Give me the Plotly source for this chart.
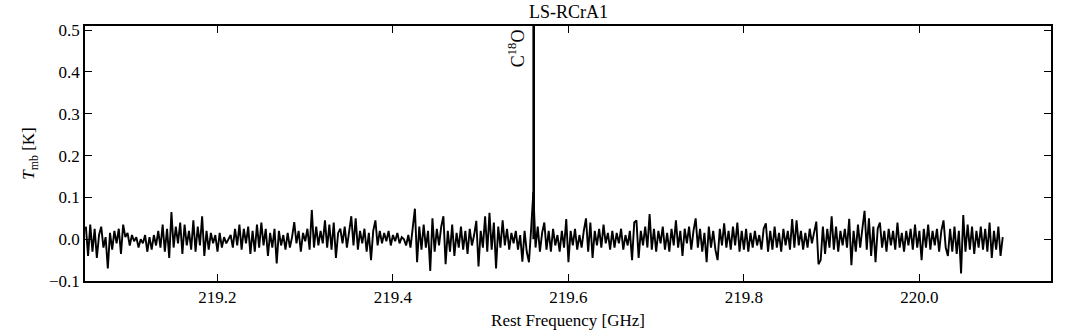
import plotly.graph_objects as go

# ---- data (Tmb in mK) ----
freq_start = 219.050   # GHz, first channel
freq_end = 220.095     # GHz, last channel

seg_a = [30, -40, 35, -30, 25, -45, 10, 30, -20, 5, -70, 15, -25, 20, -10, 25, -35, 35, 5, 15,
         -15, 10, -5, 5, -20, 0, -10, 10, -30, 5, -25, 10, -15, 20, -20, 35, -30, 25, -45, 65,
         -20, 30, -10, 40, -35, 35, -15, 20, -25, 45, -30, 30, -15, 55, -40, 20, -25, 15, -10, 10,
         -30, 15, -20, 5, -10, 0, 10, -20, 25, -15, 35, -25, 25, -10, 30, -35, 20, -30, 35, -20,
         40, -15, 25, -40, 15]
seg_b = [-20, 25, -58, 20, -15, 10, -25, 15, -20, 5, 41, -10, 20, -30, 15, -5, 25, -25, 70, -20,
         30, -15, 20, -10, 45, -20, 35, -25, 40, -45, 15, 25, -10, 30, -20, 20, 55, -15, 50, -25,
         20, -10, 25, -30, 15, -50, 20, 45, -15, 20, -10, 15, -5, 20, -15, 10, -5, 15, -10, 5,
         0, -15, 10, -20, 25, 73, -55, 30, -25, 35, -20, 20, -76, 50, -30, 25, -15, 30, 55, -60,
         20, -30, 35, -40, 15, -20]
seg_c = [30, -25, 20, -35, 25, -15, 10, 44, -65, 20, -20, 55, -30, 63, -25, 40, -70, 30, -20, 45,
         -15, 25, -25, 15, -10, 20, -25, 10, -54, 20, -30, -55, 25, 113, -20, 30, -30, 15, 40, -25,
         20, -30, 25, -15, 10, -30, 20, -20, 48, -55, 20, -15, 25, -25, 10, -20, 20, 50, -30, 40,
         -45, 20, -15, 25, -20, 35, -10, 15, -25, 20, -20, 15, -10, 25, -25, 10, -15, 20, -50, 40]
seg_d = [45, -45, 20, -15, 30, -20, 60, -25, 25, -30, 20, -10, 30, -25, 15, -30, 25, -15, 45, -20,
         20, -40, 25, -10, 30, -25, 20, 50, -20, 25, -30, 15, -55, 30, -20, 20, -25, -50, 25, -15,
         38, -20, 20, -25, 30, -15, 40, -30, 20, -25, 25, -30, 15, -20, 20, -15, 10, -25, 25, 38,
         -30, 20, -25, 30, -20, 15, -30, 25, -15, 20, -25, 48, -20, 45, -15, 20, -25, 15, -20, 25,
         -10, 20, 42, -60]
seg_e = [-50, 30, -35, 25, -20, 55, -25, 30, -30, 20, -15, 25, -20, 49, -62, 20, -30, 35, -20, 25,
         68, -25, 50, -40, 30, -55, 25, 40, -20, 20, -30, 25, -15, 20, -25, 40, -20, 15, -30, 20,
         -15, 25, -25, 35, -20, 20, -50, 25, -20, 35, -25, 20, -15, 25, -30, 20, 45, -20, -40, 25,
         -30, 30, -35, 20, -82, 58, -30, 35, -25, 30, -35, 20, -20, 30, -25, 25, -30, 40, -45, 20,
         -25, 30, -40, 5]

c18o_freq = 219.5604     # GHz
c18o_label = "C<sup>18</sup>O"
title_text = "LS-RCrA1"
x_ticks = [219.2, 219.4, 219.6, 219.8, 220.0]
x_ticklabels = ["219.2", "219.4", "219.6", "219.8", "220.0"]
y_ticks = [-0.1, 0.0, 0.1, 0.2, 0.3, 0.4, 0.5]
y_ticklabels = ["\u22120.1", "0.0", "0.1", "0.2", "0.3", "0.4", "0.5"]
x_range = [219.049, 220.150]
y_range = [-0.1, 0.51]

# ---- build the spectrum ----
tmb_mK = seg_a + seg_b + seg_c + seg_d + seg_e
n = len(tmb_mK)
df = (freq_end - freq_start) / (n - 1)
freq = [freq_start + i * df for i in range(n)]
tmb = [v / 1000.0 for v in tmb_mK]

FONT = "Liberation Serif"

fig = go.Figure()
fig.add_trace(go.Scatter(x=freq, y=tmb, mode="lines",
                         line=dict(color="black", width=1.9), showlegend=False,
                         hoverinfo="skip"))

fig.add_shape(type="line", xref="x", yref="y", x0=c18o_freq, x1=c18o_freq,
              y0=0.0, y1=y_range[1], line=dict(color="black", width=2.6))

fig.add_annotation(x=c18o_freq, y=y_range[1], xref="x", yref="y",
                   text=c18o_label, textangle=-90, showarrow=False,
                   xanchor="right", yanchor="top", xshift=-4, yshift=-1,
                   font=dict(family=FONT, size=18, color="black"))

fig.add_annotation(x=0.5, y=1, xref="paper", yref="paper", text=title_text,
                   showarrow=False, xanchor="center", yanchor="bottom", yshift=2,
                   font=dict(family=FONT, size=18, color="black"))

axis_common = dict(showline=True, linecolor="black", linewidth=1.5, mirror="allticks",
                   ticks="inside", ticklen=7, tickwidth=1, tickcolor="black",
                   showgrid=False, zeroline=False, automargin=False,
                   tickfont=dict(family=FONT, size=17, color="black"))

fig.update_xaxes(range=x_range, tickvals=x_ticks, ticktext=x_ticklabels,
                 title=dict(text="Rest Frequency [GHz]", standoff=8,
                            font=dict(family=FONT, size=17, color="black")),
                 **axis_common)
fig.update_yaxes(range=y_range, tickvals=y_ticks, ticktext=y_ticklabels,
                 title=dict(text="<i>T</i><sub>mb</sub> [K]", standoff=10,
                            font=dict(family=FONT, size=17, color="black")),
                 **axis_common)

fig.update_layout(width=1072, height=331, margin=dict(l=85, r=21, t=26, b=50),
                  paper_bgcolor="white", plot_bgcolor="white",
                  font=dict(family=FONT, color="black"))

# remove the page's default body margin so the figure sits at the window's corner
fig.write_html("out.html", config={"displayModeBar": False},
               post_script="document.body.style.margin='0';")
